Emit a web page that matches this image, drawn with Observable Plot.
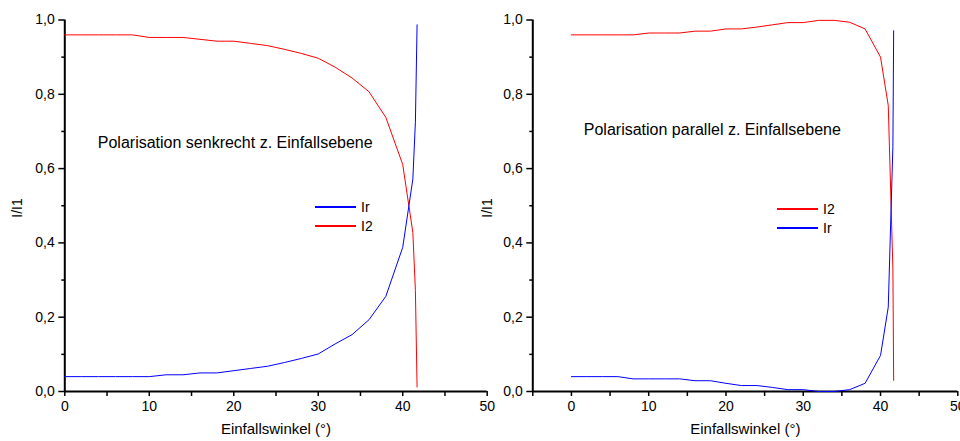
<!DOCTYPE html>
<html>
<head>
<meta charset="utf-8">
<script src="https://cdn.jsdelivr.net/npm/d3@7"></script>
<script src="https://cdn.jsdelivr.net/npm/@observablehq/plot@0.6"></script>
<style>
  html, body { margin: 0; padding: 0; background: #fff; }
  #wrap { position: relative; width: 960px; height: 441px; overflow: hidden; background: #fff;
          font-family: "Liberation Sans", Arial, sans-serif; color: #000; }
  .panel { position: absolute; top: 0; }
  .legend { position: absolute; font-size: 14px; line-height: 19px; }
  .legend .row { display: flex; align-items: center; height: 19px; }
  .legend svg { display: block; margin-right: 5px; }
</style>
</head>
<body>
<div id="wrap"></div>
<script>
// ---- Data: Polarisation senkrecht (s) ----
const angleS = [0, 2, 4, 6, 8, 10, 12, 14, 16, 18, 20, 22, 24, 26, 28, 30, 32, 34, 36, 38, 40, 41.2, 41.5, 41.7];
const irS    = [0.04, 0.04, 0.04, 0.04, 0.04, 0.04, 0.045, 0.045, 0.05, 0.05, 0.056, 0.062, 0.068, 0.078, 0.089, 0.101, 0.128, 0.153, 0.193, 0.256, 0.388, 0.572, 0.725, 0.987];
const i2S    = [0.96, 0.96, 0.96, 0.96, 0.96, 0.953, 0.953, 0.953, 0.948, 0.943, 0.943, 0.937, 0.931, 0.921, 0.91, 0.897, 0.873, 0.844, 0.807, 0.738, 0.611, 0.428, 0.272, 0.012];

// ---- Data: Polarisation parallel (p) ----
const angleP = [0, 2, 4, 6, 8, 10, 12, 14, 16, 18, 20, 22, 24, 26, 28, 30, 32, 34, 36, 38, 40, 41, 41.6, 41.7];
const irP    = [0.04, 0.04, 0.04, 0.04, 0.034, 0.034, 0.034, 0.034, 0.029, 0.029, 0.022, 0.016, 0.016, 0.011, 0.005, 0.005, 0, 0, 0.005, 0.022, 0.097, 0.227, 0.66, 0.971];
const i2P    = [0.96, 0.96, 0.96, 0.96, 0.96, 0.965, 0.965, 0.965, 0.97, 0.97, 0.976, 0.976, 0.981, 0.987, 0.993, 0.993, 0.999, 0.999, 0.994, 0.976, 0.90, 0.77, 0.33, 0.03];

// ---- Ticks / labels ----
const yTicks  = [0, 0.2, 0.4, 0.6, 0.8, 1.0];
const yMinor  = [0.1, 0.3, 0.5, 0.7, 0.9];
const xTicks  = [0, 10, 20, 30, 40, 50];
const xMinorS = [5, 15, 25, 35, 45];
const xMinorP = [-5, 5, 15, 25, 35, 45];
const xDomainS = [0, 50];
const xDomainP = [-5, 50];
const yDomain = [0, 1];
const xLabel = "Einfallswinkel (°)";
const yLabel = "I/I1";
const titleS = "Polarisation senkrecht z. Einfallsebene";
const titleP = "Polarisation parallel z. Einfallsebene";
const legendS = [{label: "Ir", color: "#0000ff"}, {label: "I2", color: "#ff0000"}];
const legendP = [{label: "I2", color: "#ff0000"}, {label: "Ir", color: "#0000ff"}];

const BLUE = "#0000ff", RED = "#ff0000";
const fmt = d => d.toFixed(1).replace(".", ",");

function panel({angles, ir, i2, xDomain, xMinor, width, marginLeft, marginRight, title, titleDx, titleDy, yLabelDx}) {
  const rows = angles.map((a, i) => ({a, ir: ir[i], i2: i2[i]}));
  return Plot.plot({
    width, height: 441,
    marginLeft, marginRight, marginTop: 19.5, marginBottom: 50,
    style: {background: "transparent", fontFamily: "Liberation Sans, Arial, sans-serif", fontSize: "14px", color: "black", overflow: "visible"},
    x: {domain: xDomain},
    y: {domain: yDomain},
    marks: [
      Plot.axisX({ticks: xTicks, tickSize: 5, tickPadding: 5, tickFormat: d => String(d), label: null, strokeWidth: 1.5}),
      Plot.axisX({ticks: xMinor, tickSize: 5, tickFormat: () => "", label: null, strokeWidth: 1.5}),
      Plot.axisY({ticks: yTicks, tickSize: 6, tickPadding: 4, tickFormat: fmt, label: null, strokeWidth: 1.5}),
      Plot.axisY({ticks: yMinor, tickSize: 3, tickFormat: () => "", label: null, strokeWidth: 1.5}),
      Plot.ruleX([xDomain[0]], {stroke: "black", strokeWidth: 2}),
      Plot.ruleY([yDomain[0]], {stroke: "black", strokeWidth: 2}),
      Plot.line(rows, {x: "a", y: "i2", stroke: RED, strokeWidth: 1}),
      Plot.line(rows, {x: "a", y: "ir", stroke: BLUE, strokeWidth: 1}),
      Plot.text([xLabel], {frameAnchor: "bottom", dy: 42, fontSize: 15}),
      Plot.text([yLabel], {frameAnchor: "left", dx: yLabelDx, dy: 12, rotate: -90, fontSize: 14}),
      Plot.text([title], {frameAnchor: "top-left", textAnchor: "start", dx: titleDx, dy: titleDy, fontSize: 16})
    ]
  });
}

const wrap = document.getElementById("wrap");

const left = panel({angles: angleS, ir: irS, i2: i2S, xDomain: xDomainS, xMinor: xMinorS,
  width: 500, marginLeft: 64.3, marginRight: 13.3, title: titleS, titleDx: 33, titleDy: 117, yLabelDx: -47});
left.classList.add("panel");
left.style.left = "0px";
wrap.appendChild(left);

const right = panel({angles: angleP, ir: irP, i2: i2P, xDomain: xDomainP, xMinor: xMinorP,
  width: 480, marginLeft: 52.3, marginRight: 2.7, title: titleP, titleDx: 51, titleDy: 104, yLabelDx: -45});
right.classList.add("panel");
right.style.left = "480px";
wrap.appendChild(right);

function legend(items, x, y) {
  const div = document.createElement("div");
  div.className = "legend";
  div.style.left = x + "px";
  div.style.top = y + "px";
  for (const it of items) {
    const row = document.createElement("div");
    row.className = "row";
    row.innerHTML = `<svg width="41" height="2" shape-rendering="crispEdges"><line x1="0" x2="41" y1="1" y2="1" stroke="${it.color}" stroke-width="1.2"/></svg><span>${it.label}</span>`;
    div.appendChild(row);
  }
  wrap.appendChild(div);
}
legend(legendS, 315, 197.5);
legend(legendP, 777, 199.5);
</script>
</body>
</html>
